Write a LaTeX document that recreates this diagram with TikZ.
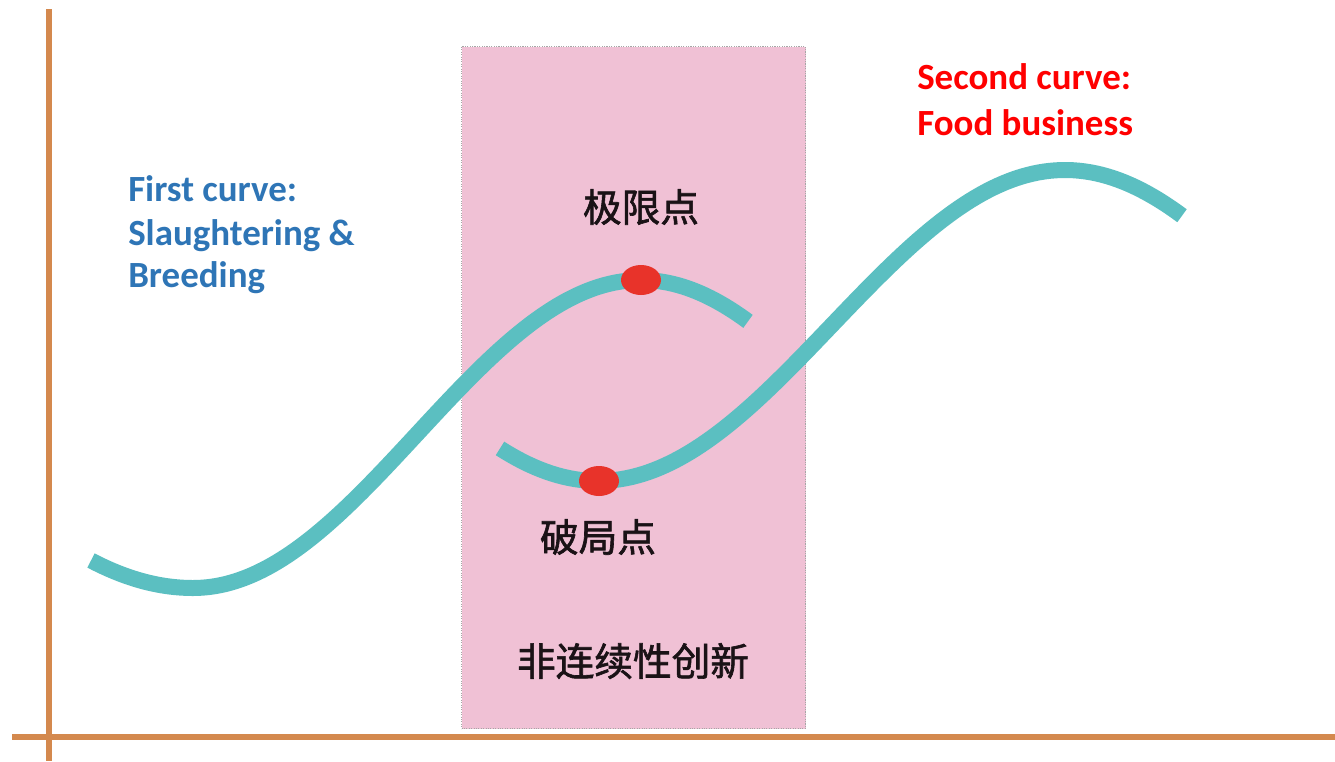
\documentclass[tikz,border=0pt]{standalone}
\usepackage{fontspec}
\setmainfont{Carlito}
\newfontfamily\cjk[FakeBold=1.6]{Noto Sans CJK SC}
\usetikzlibrary{shapes.geometric}
\definecolor{axiscol}{HTML}{D4894E}
\definecolor{pinkbg}{HTML}{F0C1D5}
\definecolor{teal}{HTML}{5BBFC1}
\definecolor{dotred}{HTML}{E8332A}
\definecolor{blueTxt}{HTML}{2E75B6}
\definecolor{redTxt}{HTML}{FF0000}
\definecolor{cjkTxt}{HTML}{1A1216}
\tikzset{
  axisline/.style={draw=axiscol,line width=3.8pt},
  curveline/.style={draw=teal,line width=12pt},
  reddot/.style={ellipse,fill=dotred,minimum width=30pt,minimum height=22.5pt,inner sep=0pt},
  labelblue/.style={font=\fontsize{27.7}{30}\selectfont\bfseries,text=blueTxt,anchor=base west,inner sep=0pt},
  labelred/.style={font=\fontsize{27.7}{30}\selectfont\bfseries,text=redTxt,anchor=base west,inner sep=0pt},
  cjklabel/.style={font=\cjk\fontsize{29}{32}\selectfont,text=cjkTxt,inner sep=0pt}
}
\begin{document}
\begin{tikzpicture}[x=0.75pt,y=-0.75pt]
\useasboundingbox (0,0) rectangle (1335,761);
\fill[white] (0,0) rectangle (1335,761);
% pink region
\node[draw=gray!70,densely dotted,line width=0.8pt,fill=pinkbg,anchor=north west,minimum width=258pt,minimum height=511.5pt,inner sep=0pt] (zone) at (461,46) {};
% axes
\coordinate (ytop) at (49,9);
\coordinate (ybot) at (49,761);
\coordinate (xl) at (12,737);
\coordinate (xr) at (1335,737);
\draw[axisline] (ytop) -- (ybot);
\draw[axisline] (xl) -- (xr);
% curves
\draw[curveline] plot[domain=91:193,samples=40] (\x,{434+154*cos((\x-193)/528*180)})
  -- plot[domain=193:748,samples=120] (\x,{434+154*cos((\x-193)/448*180)});
\draw[curveline] plot[domain=500:1182,samples=120] (\x,{325.5+155.5*cos((\x-598)/467*180)});
% dots
\node[reddot] (limit) at (641,280) {};
\node[reddot] (breakp) at (599,481) {};
% labels
\node[cjklabel] (limtxt) at (641,207) {极限点};
\node[cjklabel] (brktxt) at (598,537) {破局点};
\node[cjklabel] (zonetxt) at (633,661) {非连续性创新};
\node[labelblue] (f1) at (128,201) {First curve:};
\node[labelblue] (f2) at (128,245) {Slaughtering \&};
\node[labelblue] (f3) at (128,287) {Breeding};
\node[labelred] (s1) at (917,89) {Second curve:};
\node[labelred] (s2) at (917,135) {Food business};
\end{tikzpicture}
\end{document}
